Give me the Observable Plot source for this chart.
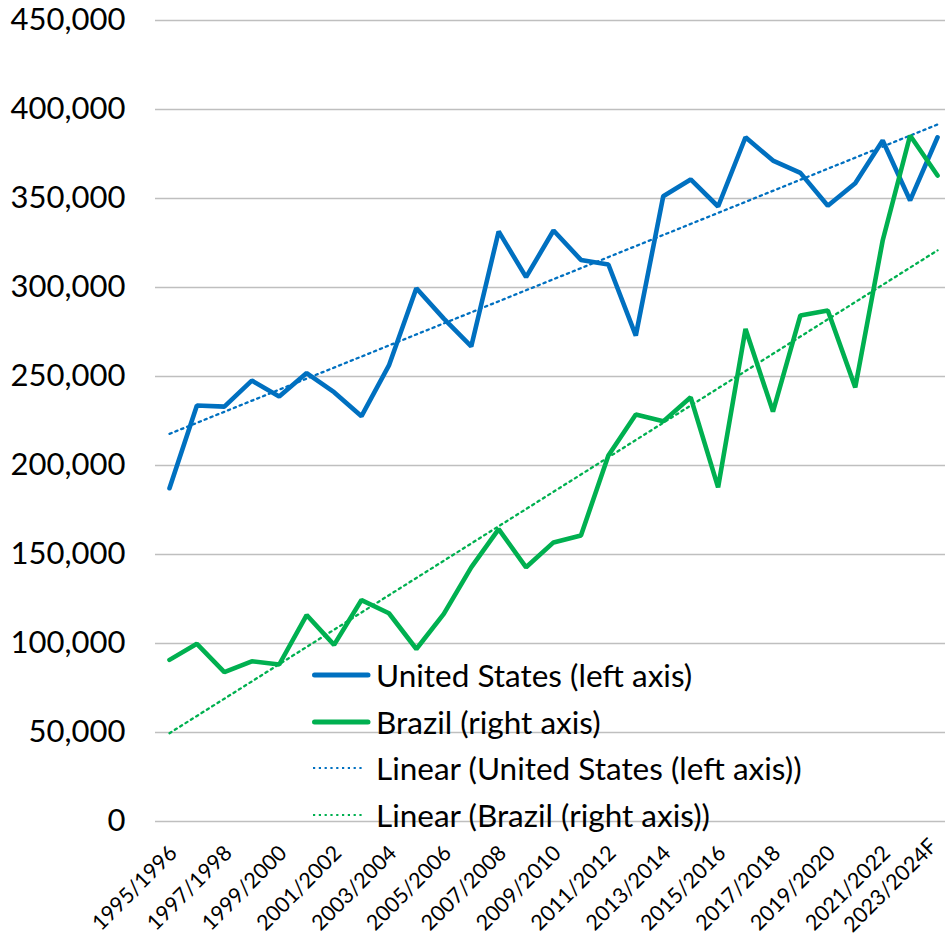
<!DOCTYPE html>
<html>
<head>
<meta charset="utf-8">
<script src="https://cdn.jsdelivr.net/npm/d3@7"></script>
<script src="https://cdn.jsdelivr.net/npm/@observablehq/plot@0.6"></script>
<style>
  html, body { margin: 0; padding: 0; background: #fff; overflow: hidden; }
  #wrap { position: relative; width: 945px; height: 937px; font-family: Lato, "Noto Sans", sans-serif; }
  #legend { position: absolute; left: 312px; top: 652px; font-size: 31.5px; color: #000; }
  #legend .row { display: flex; align-items: center; height: 46.5px; white-space: nowrap; }
  #legend svg { width: 60px; height: 12px; margin-right: 4px; flex: none; }
</style>
</head>
<body>
<div id="wrap"><div id="chart"></div><div id="legend"></div></div>
<script>
const seasons = ["1995/1996","1996/1997","1997/1998","1998/1999","1999/2000","2000/2001","2001/2002","2002/2003","2003/2004","2004/2005","2005/2006","2006/2007","2007/2008","2008/2009","2009/2010","2010/2011","2011/2012","2012/2013","2013/2014","2014/2015","2015/2016","2016/2017","2017/2018","2018/2019","2019/2020","2020/2021","2021/2022","2022/2023","2023/2024F"];
const unitedStates = [187250,233700,233100,247700,238800,251900,241200,227700,256200,299600,282500,266900,331500,305800,332000,315500,312900,273000,351300,360700,345500,384400,371300,364400,345900,358600,382600,348900,384400];
const brazil = [90800,99800,83900,90000,88200,116000,99200,124400,117000,96900,116600,142800,164300,142800,156800,160700,205600,228600,224800,238300,187700,276700,230300,284300,287100,243900,326400,385400,362900];
const yTicks = [0,50000,100000,150000,200000,250000,300000,350000,400000,450000];
const seriesNames = ["United States (left axis)","Brazil (right axis)","Linear (United States (left axis))","Linear (Brazil (right axis))"];
const colors = {us: "#0070C0", br: "#00B050"};

const usData = unitedStates.map((v, i) => ({i, v, season: seasons[i]}));
const brData = brazil.map((v, i) => ({i, v, season: seasons[i]}));
const tickIdx = seasons.map((s, i) => i).filter(i => i % 2 === 0);
const lastIdx = seasons.length - 1;
const innerTicks = tickIdx.filter(i => i !== lastIdx);
const edgeTicks = tickIdx.filter(i => i === lastIdx);

const xAxisOpts = {tickFormat: i => seasons[i], tickRotate: -45, tickSize: 0, tickPadding: 28, fontSize: 21.5, label: null};

const chart = Plot.plot({
  width: 945,
  height: 937,
  marginTop: 20,
  marginBottom: 116,
  marginLeft: 155,
  marginRight: 0,
  style: {fontFamily: "Lato, 'Noto Sans', sans-serif", color: "#000", background: "#fff"},
  x: {type: "linear", domain: [-0.51, 28.29]},
  y: {domain: [0, 450000]},
  marks: [
    Plot.ruleY(yTicks, {stroke: "#bfbfbf", strokeWidth: 1.5}),
    Plot.axisY({ticks: yTicks, tickFormat: d3.format(","), tickSize: 0, tickPadding: 30, fontSize: 31, label: null}),
    Plot.axisX({...xAxisOpts, ticks: innerTicks, dx: 4}),
    Plot.axisX({...xAxisOpts, ticks: edgeTicks, dx: -4, dy: -7}),
    Plot.linearRegressionY(usData, {x: "i", y: "v", stroke: colors.us, strokeWidth: 2.3, strokeDasharray: "2.3 4", ci: 0}),
    Plot.linearRegressionY(brData, {x: "i", y: "v", stroke: colors.br, strokeWidth: 2.3, strokeDasharray: "2.3 4", ci: 0}),
    Plot.line(usData, {x: "i", y: "v", stroke: colors.us, strokeWidth: 4.6, strokeLinejoin: "miter", strokeLinecap: "round"}),
    Plot.line(brData, {x: "i", y: "v", stroke: colors.br, strokeWidth: 4.6, strokeLinejoin: "miter", strokeLinecap: "round"})
  ]
});
document.getElementById("chart").appendChild(chart);

const legendItems = [
  {name: seriesNames[0], color: colors.us, dotted: false},
  {name: seriesNames[1], color: colors.br, dotted: false},
  {name: seriesNames[2], color: colors.us, dotted: true},
  {name: seriesNames[3], color: colors.br, dotted: true}
];
const legend = document.getElementById("legend");
legendItems.forEach(it => {
  const row = document.createElement("div");
  row.className = "row";
  const line = it.dotted
    ? `<line x1="1" y1="6" x2="53" y2="6" stroke="${it.color}" stroke-width="2.2" stroke-dasharray="2.2 3.6"/>`
    : `<line x1="2.5" y1="6" x2="56" y2="6" stroke="${it.color}" stroke-width="5" stroke-linecap="round"/>`;
  row.innerHTML = `<svg viewBox="0 0 60 12">${line}</svg><span>${it.name}</span>`;
  legend.appendChild(row);
});
</script>
</body>
</html>
